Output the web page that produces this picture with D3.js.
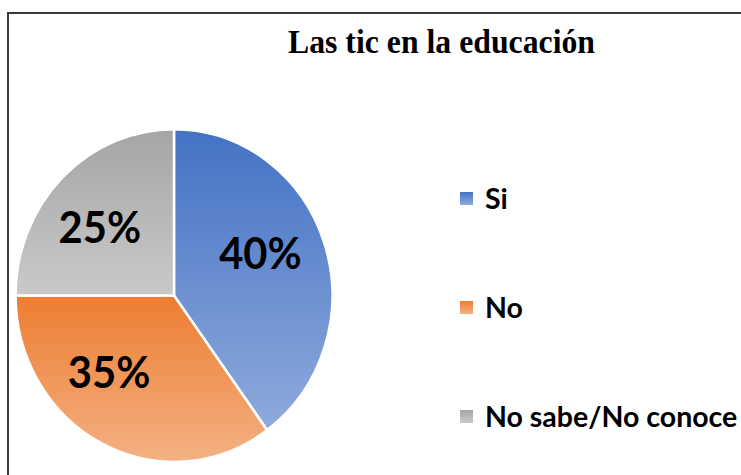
<!DOCTYPE html>
<html>
<head>
<meta charset="utf-8">
<script src="https://cdn.jsdelivr.net/npm/d3@7"></script>
<style>
  body { margin: 0; background: #fff; }
  #chart { width: 741px; height: 475px; overflow: hidden; }
</style>
</head>
<body>
<div id="chart"></div>
<script>
const categories = ["Si", "No", "No sabe/No conoce"]
const values = [40, 35, 25]
const labels = ["40%", "35%", "25%"]
const colorsTop = ["#4472C4", "#ED7D31", "#A5A5A5"]
const colorsBottom = ["#8FAADC", "#F4B183", "#C9C9C9"]

const width = 741, height = 475

var svg = d3.select("#chart").append("svg")
              .attr("width", width)
              .attr("height", height)

// gradients, one per slice (top to bottom of each slice)
var defs = svg.append("defs")
categories.forEach((c, i) => {
  let g = defs.append("linearGradient")
              .attr("id", "grad" + i)
              .attr("x1", 0).attr("y1", 0)
              .attr("x2", 0).attr("y2", 1)
  g.append("stop").attr("offset", "0%").attr("stop-color", colorsTop[i])
  g.append("stop").attr("offset", "100%").attr("stop-color", colorsBottom[i])
})

// Border
svg.append("path")
    .attr("d", "M8,476 V13 H742")
    .attr("fill", "none")
    .attr("stroke", "#3a3a3a")
    .attr("stroke-width", 2)

// Title
svg.append("text")
    .attr("x", 288)
    .attr("y", 53)
    .attr("textLength", 307)
    .attr("lengthAdjust", "spacingAndGlyphs")
    .style("font-family", "'Liberation Serif', 'Times New Roman', serif")
    .style("font-weight", "bold")
    .style("font-size", "34px")
    .text("Las tic en la educación")

// Pie
const r = 160
var pie = d3.pie().sort(null).value(d => d)
var arc = d3.arc().innerRadius(0).outerRadius(r)
var labelArc = d3.arc().innerRadius(r * 0.6).outerRadius(r * 0.6)
var arcs = pie(values)

var g = svg.append("g")
            .attr("transform", "translate(174,295.5) scale(0.99,1.04)")

g.selectAll("path.slice").data(arcs).enter()
  .append("path").attr("class", "slice")
    .attr("d", arc)
    .attr("fill", (d, i) => "url(#grad" + i + ")")
    .attr("stroke", "#fff")
    .attr("stroke-width", 2.5)

const nudge = [[-4, -11], [-22, -11], [-7, 3]]
g.selectAll("text.lbl").data(arcs).enter()
  .append("text").attr("class", "lbl")
    .attr("transform", (d, i) => {
      let c = labelArc.centroid(d)
      return "translate(" + (c[0] + nudge[i][0]) + "," + (c[1] + nudge[i][1]) + ") scale(0.98,0.96)"
    })
    .attr("text-anchor", "middle")
    .attr("dy", "0.36em")
    .style("font-family", "Lato, 'Open Sans', sans-serif")
    .style("font-weight", "bold")
    .style("font-size", "43px")
    .attr("fill", "#000")
    .text((d, i) => labels[i])

// Legend
var legend = svg.append("g").attr("transform", "translate(460,0)")
var item = legend.selectAll("g").data(categories).enter()
              .append("g")
              .attr("transform", (d, i) => "translate(0," + (209 + i * 109) + ")")
item.append("rect")
    .attr("x", 0).attr("y", -17)
    .attr("width", 13).attr("height", 13)
    .attr("fill", (d, i) => "url(#grad" + i + ")")
item.append("text")
    .attr("x", 25)
    .attr("y", 0)
    .style("font-family", "Lato, 'Open Sans', sans-serif")
    .style("font-weight", "bold")
    .style("font-size", "28.5px")
    .text(d => d)
</script>
</body>
</html>
